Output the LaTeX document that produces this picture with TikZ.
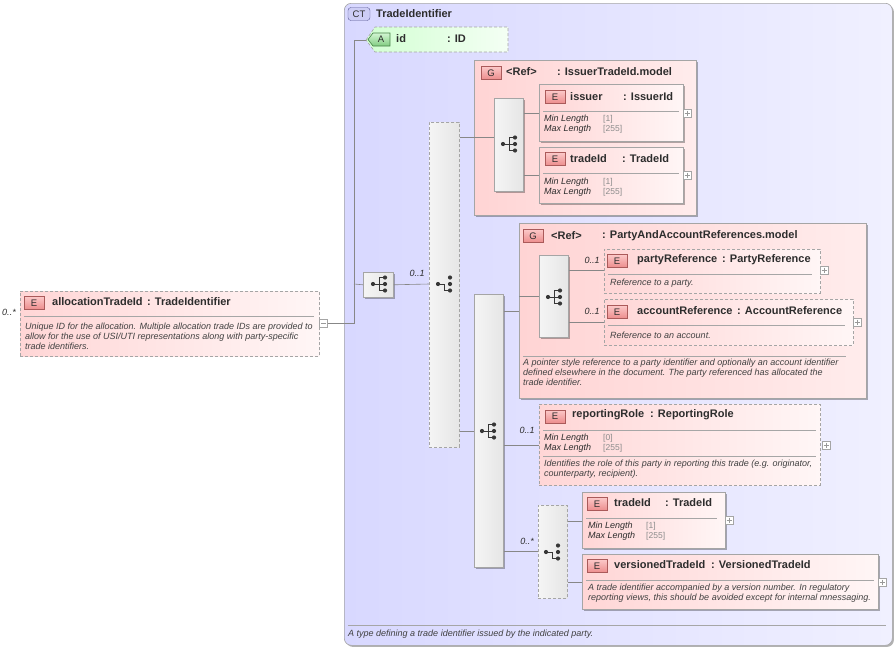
\documentclass[tikz,border=0pt]{standalone}
\usepackage{fontspec}
\setmainfont{Liberation Sans}
\usetikzlibrary{shadows}
\definecolor{ctL}{RGB}{216,216,255}
\definecolor{ctR}{RGB}{240,240,255}
\definecolor{elL}{RGB}{255,214,214}
\definecolor{elR}{RGB}{255,246,246}
\definecolor{grL}{RGB}{255,212,212}
\definecolor{grR}{RGB}{255,236,236}
\definecolor{atL}{RGB}{210,255,210}
\definecolor{atR}{RGB}{244,255,244}
\definecolor{bdr}{RGB}{165,165,165}
\definecolor{lnc}{RGB}{135,135,135}
\definecolor{txt}{RGB}{45,45,45}
\definecolor{dsc}{RGB}{65,65,65}
\definecolor{valc}{RGB}{140,140,140}
\definecolor{ebL}{RGB}{252,200,200}
\definecolor{ebR}{RGB}{236,140,140}
\definecolor{ebD}{RGB}{170,90,90}
\definecolor{abL}{RGB}{210,245,210}
\definecolor{abR}{RGB}{130,205,130}
\definecolor{abD}{RGB}{70,130,70}
\definecolor{cbF}{RGB}{205,205,245}
\definecolor{cbD}{RGB}{90,90,150}
\definecolor{icn}{RGB}{55,55,55}
\newcommand{\fnm}{\fontsize{11}{13}\selectfont\bfseries}
\newcommand{\fds}{\fontsize{9}{10}\selectfont\itshape}
\newcommand{\fbg}{\fontsize{9.5}{11}\selectfont}
\begin{document}
\begin{tikzpicture}[x=1pt,y=-1pt,
  box/.style={draw=bdr,line width=0.6pt,inner sep=0,anchor=north west},
  shad/.style={drop shadow={shadow xshift=1.6pt,shadow yshift=-1.6pt,fill=black,opacity=0.3}},
  dsh/.style={dash pattern=on 3pt off 2pt},
  elfill/.style={left color=elL,right color=elR},
  grfill/.style={left color=grL,right color=grR},
  sqfill/.style={left color=gray!8,right color=gray!20},
  nm/.style={anchor=west,inner sep=0,font=\fnm,text=txt},
  ds/.style={anchor=north west,inner sep=0,font=\fds,text=dsc,align=left},
  lb/.style={anchor=west,inner sep=0,font=\fds,text=txt},
  vl/.style={anchor=west,inner sep=0,font=\fontsize{8.5}{10}\selectfont,text=valc},
  card/.style={anchor=center,inner sep=0,font=\fds,text=txt},
  cn/.style={draw=lnc,line width=0.6pt},
  sepl/.style={draw=gray!70,line width=0.6pt},
  ebadge/.style={draw=ebD,top color=ebL,bottom color=ebR,minimum width=20pt,minimum height=13pt,inner sep=0,font=\fbg,text=txt},
  pm/.style={draw=bdr,fill=white,minimum size=8pt,inner sep=0,line width=0.5pt},
  seqicon/.pic={
    \draw[icn,line width=0.8pt] (-6,0) -- (0,0) (0,-6.5) -- (0,6.5) (0,-6.5) -- (6,-6.5) (0,0) -- (6,0) (0,6.5) -- (6,6.5);
    \fill[icn] (-6,0) circle (2.1) (6,-6.5) circle (2.1) (6,0) circle (2.1) (6,6.5) circle (2.1);
  },
  choiceicon/.pic={
    \draw[icn,line width=0.8pt] (-6,0) -- (0,0) -- (0,6.5) -- (6,6.5);
    \fill[icn] (-6,0) circle (2.1) (6,-6.5) circle (2.1) (6,0) circle (2.1) (6,6.5) circle (2.1);
  },
  plusbox/.pic={
    \node[pm] (-plus) at (0,0) {};
    \draw[gray!80,line width=0.5pt] (-2.5,0) -- (2.5,0) (0,-2.5) -- (0,2.5);
  }
]
\useasboundingbox (0,0) rectangle (896,648);
\fill[white] (0,0) rectangle (896,648);

% ---------- complex type frame ----------
\node[box,rounded corners=7pt,left color=ctL,right color=ctR,minimum width=548pt,minimum height=642pt,shad] (ct) at (344,3) {};
\node[draw=cbD,fill=cbF,rounded corners=3pt,minimum width=22pt,minimum height=13pt,inner sep=0,font=\fbg,text=txt] (ctb) at (359,14) {CT};
\node[nm] (cttitle) at (376,14) {TradeIdentifier};
\draw[sepl] (348,625) -- (886,625);
\node[lb,text=dsc] (ctdesc) at (348,634) {A type defining a trade identifier issued by the indicated party.};

% ---------- coordinates for connector levels ----------
\coordinate (yA) at (0,40);
\coordinate (y284) at (0,284);
\coordinate (y323) at (0,323);
\coordinate (y137) at (0,137);
\coordinate (y431) at (0,431);
\coordinate (y113) at (0,113);
\coordinate (y175) at (0,175);
\coordinate (y311) at (0,311);
\coordinate (y296) at (0,296);
\coordinate (y270) at (0,270);
\coordinate (y322) at (0,322);
\coordinate (y445) at (0,445);
\coordinate (y551) at (0,551);
\coordinate (y521) at (0,521);
\coordinate (y582) at (0,582);
\coordinate (trunk) at (354,0);

% ---------- attribute id ----------
\path[draw=bdr,line width=0.6pt,dsh,left color=atL,right color=atR] (366,40) -- (375,27) -- (508,27) -- (508,52) -- (375,52) -- cycle;
\coordinate (attr) at (366,40);
\path[draw=abD,line width=0.6pt,top color=abL,bottom color=abR] (368,39.5) -- (373,33) -- (390,33) -- (390,46) -- (373,46) -- cycle;
\node[inner sep=0,font=\fbg,text=txt] (ab) at (381,39.5) {A};
\node[nm] (attrn) at (396,39) {id};
\node[nm] (attrt) at (447,39) {: ID};

% ---------- allocationTradeId ----------
\node[box,dsh,elfill,minimum width=299pt,minimum height=65pt] (alloc) at (20,291) {};
\node[ebadge] (ab1) at (34,303) {E};
\node[nm] (an1) at (52,302) {allocationTradeId};
\node[nm] (at1) at (147,302) {: TradeIdentifier};
\draw[sepl] (24,316) -- (314,316);
\node[ds] (ad1) at (25,322.5) {Unique ID for the allocation. Multiple allocation trade IDs are provided to\\allow for the use of USI/UTI representations along with party-specific\\trade identifiers.};
\node[card] (c0) at (9,312) {0..*};
\node[pm] (amin) at (323.5,323) {};
\draw[gray!80,line width=0.5pt] ([xshift=-2.5pt]amin.center) -- ([xshift=2.5pt]amin.center);

% ---------- compositors level 1 ----------
\node[box,sqfill,minimum width=30pt,minimum height=25pt,shad] (seq1) at (363,272) {};
\pic at (379,284) {seqicon};
\node[box,dsh,sqfill,minimum width=30pt,minimum height=325pt] (ch1) at (429,122) {};
\pic at (444,284) {choiceicon};
\node[card] (c1) at (417,273) {0..1};

% ---------- IssuerTradeId.model group ----------
\node[box,grfill,minimum width=222pt,minimum height=155pt,shad] (grpI) at (474,60) {};
\node[ebadge] (gb1) at (491,73) {G};
\node[nm] (gn1) at (506,72) {<Ref>};
\node[nm] (gt1) at (557,72) {: IssuerTradeId.model};
\node[box,sqfill,minimum width=29pt,minimum height=93pt,shad] (seqI) at (494,98) {};
\pic at (509,144) {seqicon};

\node[box,elfill,minimum width=144pt,minimum height=57pt,shad] (issuer) at (539,84) {};
\node[ebadge] (eb2) at (555,97) {E};
\node[nm] (en2) at (570,97) {issuer};
\node[nm] (et2) at (623,97) {: IssuerId};
\draw[sepl] (543,111) -- (679,111);
\node[lb] (l2a) at (544,119) {Min Length};
\node[vl] (v2a) at (603,119) {[1]};
\node[lb] (l2b) at (544,129) {Max Length};
\node[vl] (v2b) at (603,129) {[255]};
\pic at (687,113) {plusbox};

\node[box,elfill,minimum width=144pt,minimum height=56pt,shad] (tidA) at (539,147) {};
\node[ebadge] (eb3) at (555,159) {E};
\node[nm] (en3) at (570,159) {tradeId};
\node[nm] (et3) at (622,159) {: TradeId};
\draw[sepl] (543,173) -- (679,173);
\node[lb] (l3a) at (544,182) {Min Length};
\node[vl] (v3a) at (603,182) {[1]};
\node[lb] (l3b) at (544,192) {Max Length};
\node[vl] (v3b) at (603,192) {[255]};
\pic at (687,175) {plusbox};

% ---------- sequence level 2 ----------
\node[box,sqfill,minimum width=29pt,minimum height=273pt,shad] (seq2) at (474,294) {};
\pic at (488,431) {seqicon};

% ---------- PartyAndAccountReferences.model group ----------
\node[box,grfill,minimum width=347pt,minimum height=175pt,shad] (grpP) at (519,223) {};
\node[ebadge] (gb2) at (533,236) {G};
\node[nm] (gn2) at (551,236) {<Ref>};
\node[nm] (gt2) at (602,236) {: PartyAndAccountReferences.model};
\node[box,sqfill,minimum width=29pt,minimum height=82pt,shad] (seqP) at (539,255) {};
\pic at (554,297) {seqicon};

\node[box,dsh,elfill,minimum width=216pt,minimum height=44pt] (pref) at (604,249) {};
\node[ebadge] (eb4) at (617,261) {E};
\node[nm] (en4) at (637,260) {partyReference};
\node[nm] (et4) at (722,260) {: PartyReference};
\draw[sepl] (608,274) -- (812,274);
\node[lb,text=dsc] (d4) at (610,283) {Reference to a party.};
\node[card] (c4) at (592,260) {0..1};
\pic at (824,270) {plusbox};

\node[box,dsh,elfill,minimum width=249pt,minimum height=46pt] (aref) at (604,299) {};
\node[ebadge] (eb5) at (617,312) {E};
\node[nm] (en5) at (637,311) {accountReference};
\node[nm] (et5) at (737,311) {: AccountReference};
\draw[sepl] (608,325) -- (845,325);
\node[lb,text=dsc] (d5) at (610,335) {Reference to an account.};
\node[card] (c5) at (592,311) {0..1};
\pic at (857,322) {plusbox};

\draw[sepl] (523,356) -- (846,356);
\node[ds] (dP) at (523,359) {A pointer style reference to a party identifier and optionally an account identifier\\defined elsewhere in the document. The party referenced has allocated the\\trade identifier.};

% ---------- reportingRole ----------
\node[box,dsh,elfill,minimum width=281pt,minimum height=81pt] (rrole) at (539,404) {};
\node[ebadge] (eb6) at (555,416.5) {E};
\node[nm] (en6) at (572,415) {reportingRole};
\node[nm] (et6) at (650,415) {: ReportingRole};
\draw[sepl] (543,430) -- (816,430);
\node[lb] (l6a) at (544,438) {Min Length};
\node[vl] (v6a) at (603,438) {[0]};
\node[lb] (l6b) at (544,448) {Max Length};
\node[vl] (v6b) at (603,448) {[255]};
\draw[sepl] (543,456) -- (816,456);
\node[ds] (d6) at (544,459.5) {Identifies the role of this party in reporting this trade (e.g. originator,\\counterparty, recipient).};
\node[card] (c6) at (527,430) {0..1};
\pic at (826,445) {plusbox};

% ---------- choice level 3 ----------
\node[box,dsh,sqfill,minimum width=29pt,minimum height=93pt] (ch2) at (538,505) {};
\pic at (552,552) {choiceicon};
\node[card] (c7) at (527,541) {0..*};

\node[box,elfill,minimum width=143pt,minimum height=56pt,shad] (tidB) at (582,492) {};
\node[ebadge] (eb7) at (597,504) {E};
\node[nm] (en7) at (614,503) {tradeId};
\node[nm] (et7) at (665,503) {: TradeId};
\draw[sepl] (586,518) -- (717,518);
\node[lb] (l7a) at (588,526) {Min Length};
\node[vl] (v7a) at (646,526) {[1]};
\node[lb] (l7b) at (588,536) {Max Length};
\node[vl] (v7b) at (646,536) {[255]};
\pic at (729,520) {plusbox};

\node[box,elfill,minimum width=296pt,minimum height=55pt,shad] (vtid) at (582,554) {};
\node[ebadge] (eb8) at (597,566) {E};
\node[nm] (en8) at (614,565) {versionedTradeId};
\node[nm] (et8) at (711,565) {: VersionedTradeId};
\draw[sepl] (586,580) -- (874,580);
\node[ds] (d8) at (588,584) {A trade identifier accompanied by a version number. In regulatory\\reporting views, this should be avoided except for internal mnessaging.};
\pic at (882,582) {plusbox};

% ---------- connectors ----------
\draw[cn] (amin.east) -- (trunk |- y323) -- (trunk |- yA) -- (attr);
\draw[cn] (trunk |- y284) -- (seq1.west);
\draw[cn] (seq1.east) -- (ch1.west |- y284);
\draw[cn] (ch1.east |- y137) -- (seqI.west |- y137);
\draw[cn] (ch1.east |- y431) -- (seq2.west |- y431);
\draw[cn] (seqI.east |- y113) -- (issuer.west |- y113);
\draw[cn] (seqI.east |- y175) -- (tidA.west |- y175);
\draw[cn] (seq2.east |- y311) -- (grpP.west |- y311);
\draw[cn] (grpP.west |- y296) -- (seqP.west |- y296);
\draw[cn] (seqP.east |- y270) -- (pref.west |- y270);
\draw[cn] (seqP.east |- y322) -- (aref.west |- y322);
\draw[cn] (seq2.east |- y445) -- (rrole.west |- y445);
\draw[cn] (seq2.east |- y551) -- (ch2.west |- y551);
\draw[cn] (ch2.east |- y521) -- (tidB.west |- y521);
\draw[cn] (ch2.east |- y582) -- (vtid.west |- y582);
\end{tikzpicture}
\end{document}
